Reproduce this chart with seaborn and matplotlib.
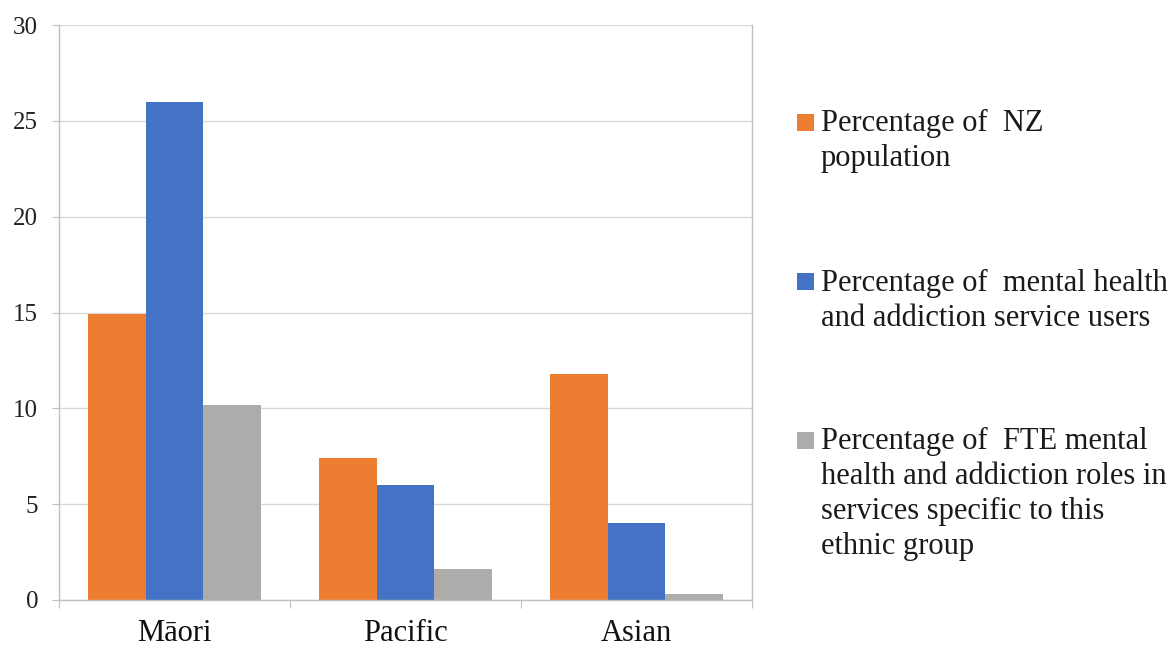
import matplotlib
matplotlib.use("Agg")
import matplotlib.pyplot as plt
from matplotlib.patches import Rectangle
import seaborn as sns
import pandas as pd

groups = ["Māori", "Pacific", "Asian"]
pct_population = [14.9, 7.4, 11.8]
pct_service_users = [26.0, 6.0, 4.0]
pct_fte_roles = [10.2, 1.6, 0.3]
series_labels = [
    "Percentage of  NZ\npopulation",
    "Percentage of  mental health\nand addiction service users",
    "Percentage of  FTE mental\nhealth and addiction roles in\nservices specific to this\nethnic group",
]
colors = ["#ED7D31", "#4472C4", "#AEABAB"]
y_ticks = [0, 5, 10, 15, 20, 25, 30]

rows = []
for label, vals in zip(series_labels, [pct_population, pct_service_users, pct_fte_roles]):
    for g, v in zip(groups, vals):
        rows.append({"group": g, "series": label, "value": v})
df = pd.DataFrame(rows)

sns.set_theme(style="white")
plt.rcParams["font.family"] = ["Liberation Serif", "DejaVu Serif"]

W, H = 1174, 648
fig = plt.figure(figsize=(W / 100, H / 100), dpi=100)
ax = fig.add_axes([59 / W, 1 - 600 / H, (752 - 59) / W, (600 - 25) / H])

sns.barplot(data=df, x="group", y="value", hue="series", order=groups,
            hue_order=series_labels, palette=colors, width=0.753, gap=0,
            saturation=1, linewidth=0, ax=ax, legend=False)

ax.set_ylim(0, 30)
ax.set_xlim(-0.5, 2.5)
ax.set_yticks(y_ticks)
ax.set_yticklabels([str(t) for t in y_ticks], fontsize=18, color="#222222")
ax.set_xticks(range(len(groups)))
ax.set_xticklabels(groups, fontsize=22, color="#111111")
ax.set_xticks([-0.5, 0.5, 1.5, 2.5], minor=True)
ax.tick_params(axis="x", which="major", bottom=False, length=0, pad=14)
ax.tick_params(axis="x", which="minor", bottom=True, length=6, width=0.8,
               color="#BFBFBF", direction="out")
ax.tick_params(axis="y", which="major", left=True, length=5, width=0.8,
               color="#BFBFBF", direction="out", pad=10)
ax.set_xlabel("")
ax.set_ylabel("")

ax.yaxis.grid(True, color="#D9D9D9", linewidth=1)
ax.set_axisbelow(True)
for side in ["left", "right", "bottom"]:
    ax.spines[side].set_visible(True)
    ax.spines[side].set_color("#BFBFBF")
    ax.spines[side].set_linewidth(1)
ax.spines["top"].set_visible(False)

# Legend: square swatch aligned with the first line of each wrapped label
entry_tops = [122, 282, 440]  # centre of first text line, in pixels from top
for label, color, yc in zip(series_labels, colors, entry_tops):
    fig.patches.append(Rectangle((797 / W, 1 - (yc + 8.5) / H), 17 / W, 17 / H,
                                 transform=fig.transFigure, facecolor=color,
                                 edgecolor="none"))
    fig.text(821 / W, 1 - (yc - 13) / H, label, fontsize=22, color="#1A1A1A",
             ha="left", va="top", linespacing=1.27)

fig.savefig("out.png", dpi=100)
